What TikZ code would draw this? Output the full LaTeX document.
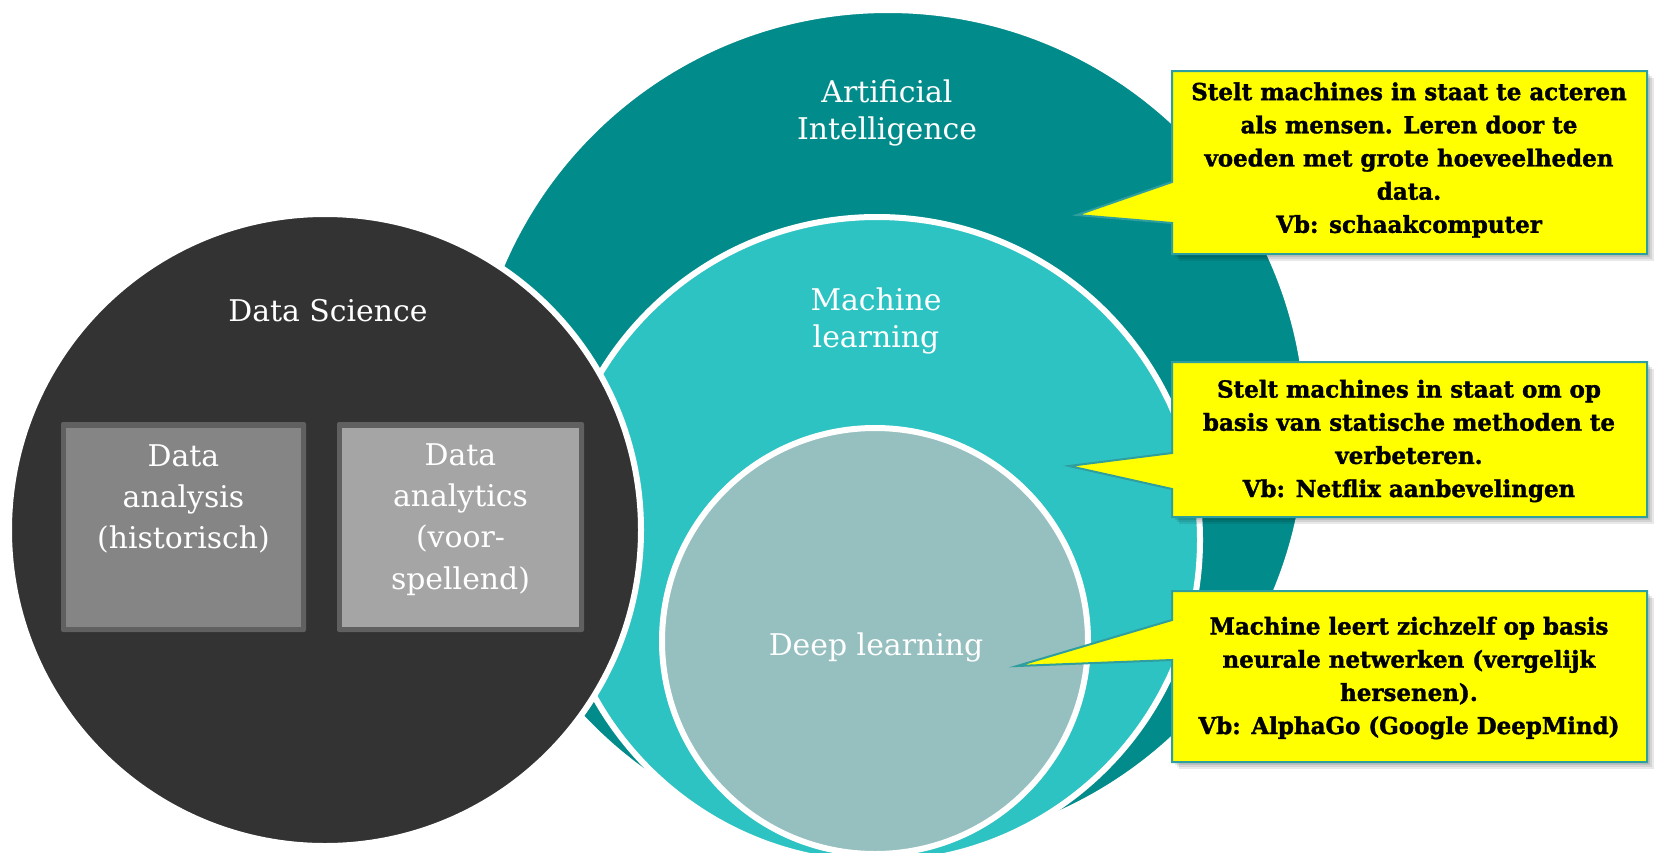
\documentclass[tikz,border=0pt]{standalone}
\usepackage{fontspec}
\usetikzlibrary{calc}
\newfontfamily\labfont{DejaVu Serif}
\newfontfamily\calfont{DejaVu Serif}[FakeStretch=0.98,BoldFeatures={FakeBold=1.5}]
\definecolor{aiteal}{HTML}{028B8B}
\definecolor{mlteal}{HTML}{2EC3C3}
\definecolor{dlteal}{HTML}{96BFBF}
\definecolor{dsgray}{HTML}{333333}
\definecolor{boxA}{HTML}{858585}
\definecolor{boxB}{HTML}{A5A5A5}
\definecolor{boxedge}{HTML}{606060}
\definecolor{calledge}{HTML}{2E9E9E}
\definecolor{callyellow}{HTML}{FFFF00}
\begin{document}
\begin{tikzpicture}[x=1bp,y=-1bp,
  venn/.style={draw=white,line width=6bp},
  lab/.style={text=white,font=\labfont\fontsize{30}{37}\selectfont,align=center,inner sep=0pt},
  boxlab/.style={lab,font=\labfont\fontsize{30}{41.5}\selectfont},
  calltext/.style={font=\calfont\bfseries\fontsize{23.5}{33.3}\selectfont,align=center,text=black,inner sep=0pt},
  callshape/.style={fill=callyellow,draw=calledge,line width=2bp,line join=miter},
  callshadow/.style={fill=black,opacity=0.09}]

\fill[white] (0,0) rectangle (1656,852);
\useasboundingbox (0,0) rectangle (1656,852);

\begin{scope}
\clip (0,0) rectangle (1656,852);
\filldraw[venn,fill=aiteal] (888,430) circle[radius=420];
\filldraw[venn,fill=mlteal] (877,540) circle[radius=323];
\filldraw[venn,fill=dlteal] (875,641) circle[radius=213];
\filldraw[venn,fill=dsgray] (325,530) circle[radius=316];
\end{scope}

% inner boxes
\fill[boxedge,rounded corners=2bp] (61,422) rectangle (306,632);
\fill[boxA] (66,428) rectangle (301,627);
\fill[boxedge,rounded corners=2bp] (337,422) rectangle (584,632);
\fill[boxB] (342,428) rectangle (579,627);

% callout shadows
\foreach \s in {3,5,7}{
  \fill[callshadow] ($(1172,71)+(\s,\s)$) -- ++(475,0) -- ++(0,183) -- ++(-475,0) -- cycle;
  \fill[callshadow] ($(1172,362)+(\s,\s)$) -- ++(475,0) -- ++(0,155) -- ++(-475,0) -- cycle;
  \fill[callshadow] ($(1172,591)+(\s,\s)$) -- ++(475,0) -- ++(0,171) -- ++(-475,0) -- cycle;
}
% callouts
\filldraw[callshape] (1172,71) -- (1647,71) -- (1647,254) -- (1172,254) -- (1172,223) -- (1077,215) -- (1172,182) -- cycle;
\filldraw[callshape] (1172,362) -- (1647,362) -- (1647,517) -- (1172,517) -- (1172,489) -- (1069,466) -- (1172,453) -- cycle;
\filldraw[callshape] (1172,591) -- (1647,591) -- (1647,762) -- (1172,762) -- (1172,660) -- (1017,666) -- (1172,620) -- cycle;

% labels
\node[lab] (ai) at (887,113) {Artificial\\Intelligence};
\node[lab] (ml) at (876,321) {Machine\\learning};
\node[lab] (dl) at (876,647) {Deep learning};
\node[lab] (ds) at (328,311) {Data Science};
\node[boxlab] (da) at (183.5,499) {Data\\analysis\\(historisch)};
\node[boxlab] (dan) at (460.5,519.5) {Data\\analytics\\(voor-\\spellend)};

\node[calltext] (c1) at (1409,160) {Stelt machines in staat te acteren\\als mensen. Leren door te\\voeden met grote hoeveelheden\\data.\\Vb: schaakcomputer};
\node[calltext] (c2) at (1409,441) {Stelt machines in staat om op\\basis van statische methoden te\\verbeteren.\\Vb: Netflix aanbevelingen};
\node[calltext] (c3) at (1409,678) {Machine leert zichzelf op basis\\neurale netwerken (vergelijk\\hersenen).\\Vb: AlphaGo (Google DeepMind)};
\end{tikzpicture}
\end{document}
